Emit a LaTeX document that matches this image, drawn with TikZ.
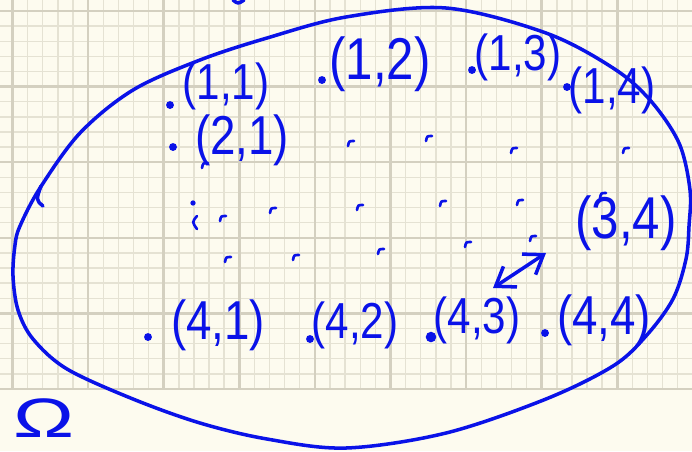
\documentclass[tikz,border=0pt]{standalone}
\usepackage{fontspec}
\setmainfont{Liberation Sans}
\usepackage{tikz}
\usetikzlibrary{arrows.meta}
\definecolor{InkBlue}  {RGB}{ 10, 18, 232}
\definecolor{PaperBg}  {RGB}{253,251,239}
\definecolor{GridMinor}{RGB}{229,226,211}
\definecolor{GridMajor}{RGB}{212,208,192}

\begin{document}
\begin{tikzpicture}[x=0.02cm,y=-0.02cm,
      ink/.style={InkBlue,line width=2pt,line cap=round,line join=round},
      pt/.style={circle,fill=InkBlue,inner sep=0pt,minimum size=4.5pt},
      lbl/.style={text=InkBlue,font=\fontsize{24}{26}\selectfont,inner sep=0pt,yscale=1.2},
      tick/.style={InkBlue,line width=1.5pt,line cap=round},
      minorline/.style={GridMinor,line width=0.8pt},
      majorline/.style={GridMajor,line width=1.4pt},
      twoway/.style={ink,{Straight Barb[length=10pt,width=14pt]}-{Straight Barb[length=10pt,width=14pt]}}]
    \fill[PaperBg] (0,0) rectangle (692,451);
    \useasboundingbox (0,0) rectangle (692,451);
    % squared paper
    \foreach \i in {0,...,44}
      \draw[minorline] ({12.5+15.12*\i},0) -- ({12.5+15.12*\i},389);
    \foreach \j in {0,...,25}
      \draw[minorline] (0,{11+15.12*\j}) -- (692,{11+15.12*\j});
    \foreach \i in {0,...,8}
      \draw[majorline] ({12.5+75.6*\i},0) -- ({12.5+75.6*\i},389);
    \foreach \j in {0,...,5}
      \draw[majorline] (0,{11+75.6*\j}) -- (692,{11+75.6*\j});
    % the set
    \draw[ink] plot[smooth cycle,tension=0.55] coordinates {
      (20,226) (40,188) (80,133) (133,90) (200,60) (267,38) (346,17) (446,8)
      (546,33) (613,68) (650,100) (679,143) (690,190) (689,226) (686,259)
      (673,299) (646,336) (613,366) (546,399) (446,433) (346,448) (267,439)
      (200,423) (133,399) (67,369) (33,339) (18,310) (13,276) (15,245)};
    \draw[ink] (43,206) .. controls (36,200) .. (41,186);
    \draw[ink] (233,0) .. controls (238,4) .. (244,0);
    % entries
    \node[pt] (d11) at (170,105) {};
    \node[lbl] (l11) at (226,86) {(1,1)};
    \node[pt] (d12) at (322,80) {};
    \node[lbl,font=\fontsize{28}{30}\selectfont] (l12) at (380,64) {(1,2)};
    \node[pt] (d13) at (472,70) {};
    \node[lbl] (l13) at (518,57) {(1,3)};
    \node[pt] (d14) at (567,87) {};
    \node[lbl] (l14) at (612,90) {(1,4)};
    \node[pt] (d21) at (173,147) {};
    \node[lbl,font=\fontsize{26}{28}\selectfont] (l21) at (242,140) {(2,1)};
    \node[lbl,font=\fontsize{28}{30}\selectfont] (l34) at (626,223) {(3,4)};
    \node[pt] (d41) at (148,337) {};
    \node[lbl,font=\fontsize{26}{28}\selectfont] (l41) at (218,325) {(4,1)};
    \node[pt] (d42) at (310,339) {};
    \node[lbl] (l42) at (355,325) {(4,2)};
    \node[pt,minimum size=6pt] (d43) at (431,337) {};
    \node[lbl] (l43) at (477,320) {(4,3)};
    \node[pt] (d44) at (545,333) {};
    \node[lbl,font=\fontsize{26}{28}\selectfont] (l44) at (604,320) {(4,4)};
    \node[lbl,font=\fontsize{31}{33}\selectfont,xscale=1.5,yscale=0.85] (omega) at (44,418) {Ω};
    % the rest of the grid
    \foreach \tx/\ty in {205/165,223/218,273/210,360/207,443/203,520/202,603/195,
                         351/143,429/138,514/150,626/150,228/259,296/257,381/251,
                         468/244,533/238}
      \draw[tick] ({\tx-3},{\ty+3}) .. controls ({\tx-2},{\ty-2}) .. ({\tx+3},{\ty-2});
    \node[pt,minimum size=3pt] (dots) at (193,203) {};
    \draw[tick] (197,216) .. controls (192,222) .. (197,229);
    \coordinate (swapA) at (493,288);
    \coordinate (swapB) at (546,253);
    \draw[twoway] (swapA) -- (swapB);
  \end{tikzpicture}
\end{document}
